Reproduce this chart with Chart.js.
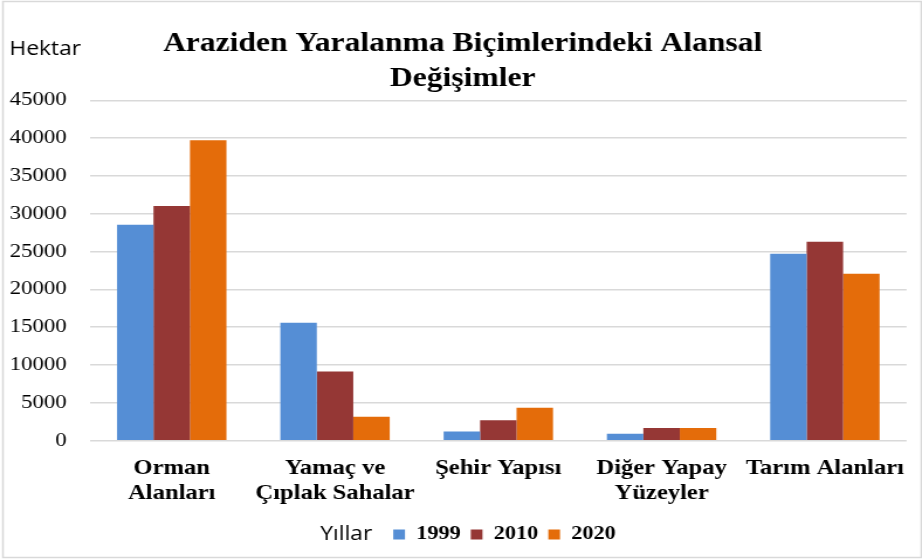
<!DOCTYPE html>
<html>
<head>
<meta charset="utf-8">
<script src="https://cdn.jsdelivr.net/npm/chart.js@4"></script>
<style>
  html, body { margin: 0; padding: 0; background: #fff; overflow: hidden; }
  /* referans görüntü yatayda gerilmiş, aynısını yapıyoruz */
  #wrap { width: 788px; height: 560px; position: relative; transform: scaleX(1.17); transform-origin: 0 0; }
</style>
</head>
<body>
<div id="wrap"><canvas id="grafik"></canvas></div>
<script>
// veriler (grafikten okunan yaklaşık değerler, hektar)
const kategoriler = [['Orman', 'Alanları'], ['Yamaç ve', 'Çıplak Sahalar'], 'Şehir Yapısı', ['Diğer Yapay', 'Yüzeyler'], 'Tarım Alanları'];
const yillar = ['1999', '2010', '2020'];
const deger1999 = [28550, 15580, 1200, 900, 24700];
const deger2010 = [31000, 9130, 2680, 1650, 26300];
const deger2020 = [39700, 3150, 4330, 1650, 22050];
const renkler = ['#558ED5', '#953735', '#E46C0A'];

const serif = "'Liberation Serif', 'Times New Roman', serif";
const sans = "'Open Sans', 'Liberation Sans', sans-serif";

// çerçeve, "Hektar" ve lejant başlığı "Yıllar"
const ekYazilar = {
    id: 'ekYazilar',
    beforeDraw(chart) {
        const ctx = chart.ctx;
        ctx.save();
        ctx.fillStyle = '#fff';
        ctx.fillRect(0, 0, chart.width, chart.height);
        ctx.restore();
    },
    afterLayout(chart) {
        // lejantı "Yıllar" yazısına yer açmak için sağa kaydır
        const lg = chart.legend;
        if (lg) { lg.left += 38; lg.right += 38; }
    },
    afterDraw(chart) {
        const ctx = chart.ctx;
        ctx.save();
        ctx.strokeStyle = '#d9d9d9';
        ctx.lineWidth = 1.5;
        ctx.strokeRect(2.5, 1.5, chart.width - 3, chart.height - 4);
        ctx.fillStyle = '#000';
        ctx.font = '19.5px ' + sans;
        ctx.textBaseline = 'middle';
        ctx.textAlign = 'left';
        ctx.fillText('Hektar', 8, 49);
        const kutu = chart.legend?.legendHitBoxes?.[0];
        if (kutu) {
            ctx.textAlign = 'right';
            ctx.fillText('Yıllar', kutu.left - 18, kutu.top + kutu.height / 2);
        }
        ctx.restore();
    }
};

const ctx = document.getElementById('grafik').getContext('2d');
new Chart(ctx, {
    type: 'bar',
    data: {
        labels: kategoriler,
        datasets: [
            { label: yillar[0], data: deger1999, backgroundColor: renkler[0] },
            { label: yillar[1], data: deger2010, backgroundColor: renkler[1] },
            { label: yillar[2], data: deger2020, backgroundColor: renkler[2] }
        ]
    },
    options: {
        responsive: true,
        maintainAspectRatio: false,
        animation: false,
        datasets: { bar: { categoryPercentage: 0.67, barPercentage: 1 } },
        layout: { padding: { left: 7, right: 4, top: 18, bottom: 6 } },
        plugins: {
            title: {
                display: true,
                text: ['Araziden Yaralanma Biçimlerindeki Alansal', 'Değişimler'],
                color: '#000',
                font: { family: serif, size: 27, weight: 'bold', lineHeight: 1.3 },
                padding: { top: 8, bottom: 4 }
            },
            legend: {
                position: 'bottom',
                labels: {
                    color: '#000',
                    boxWidth: 10,
                    boxHeight: 10,
                    padding: 4,
                    font: { family: serif, size: 19, weight: 'bold' },
                    // öğeler arası boşluk için sona bir boşluk ekle
                    generateLabels: chart => Chart.defaults.plugins.legend.labels.generateLabels(chart)
                        .map(l => ({ ...l, text: l.text + ' ' }))
                }
            },
            tooltip: { enabled: false }
        },
        scales: {
            x: {
                grid: { display: false, drawTicks: false },
                border: { display: false },
                ticks: {
                    color: '#000',
                    maxRotation: 0,
                    autoSkip: false,
                    padding: 15,
                    font: { family: serif, size: 21, weight: 'bold', lineHeight: 1.2 }
                }
            },
            y: {
                min: 0,
                max: 45000,
                grid: { color: '#d9d9d9', lineWidth: 1.4, drawTicks: false },
                border: { display: false },
                afterFit: s => { s.width = 70; },
                ticks: {
                    stepSize: 5000,
                    color: '#000',
                    padding: 20,
                    font: { family: serif, size: 19.5 },
                    callback: v => String(v)
                }
            }
        }
    },
    plugins: [ekYazilar]
});
</script>
</body>
</html>
